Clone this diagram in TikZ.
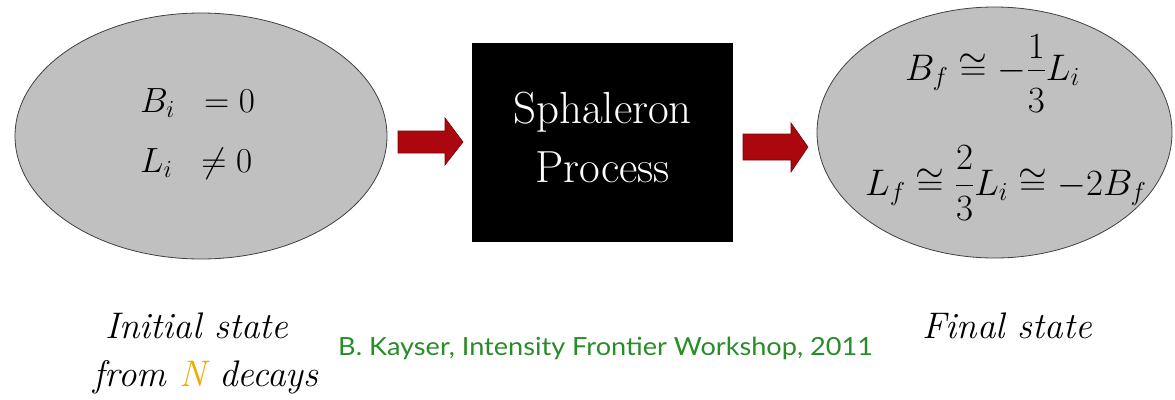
\RequirePackage{fix-cm}
\documentclass[tikz,border=0pt]{standalone}
\usepackage{amsmath}
\usepackage{fontspec}
\newfontfamily\gillfont{Lato}
\usetikzlibrary{shapes.geometric}
\definecolor{ellgray}{RGB}{192,192,192}
\definecolor{arrred}{RGB}{172,6,14}
\definecolor{refgreen}{RGB}{40,140,40}
\definecolor{norange}{RGB}{240,170,0}
\begin{document}
\begin{tikzpicture}[x=1pt,y=-1pt,
  statebox/.style={ellipse, draw=black!75, line width=0.8pt, fill=ellgray, inner sep=0pt},
  eqnl/.style={anchor=base west, inner sep=0pt, font=\fontsize{35}{40}\selectfont},
  eqnr/.style={anchor=base west, inner sep=0pt, font=\fontsize{37}{42}\selectfont},
  procbox/.style={rectangle, fill=black, draw=none, inner sep=0pt, minimum width=261pt, minimum height=199pt},
  proctxt/.style={anchor=base, inner sep=0pt, text=white, font=\fontsize{45}{52}\selectfont},
  captxt/.style={anchor=base, inner sep=0pt, font=\fontsize{37}{44}\selectfont\itshape},
  credit/.style={anchor=base west, inner sep=0pt, text=refgreen, font=\gillfont\fontsize{25}{30}\selectfont},
  blockarrow/.style={fill=arrred, draw=arrred!70!black, line width=0.6pt, line join=miter}]
\useasboundingbox (0,0) rectangle (1175,399);

% initial state
\node[statebox, minimum width=372pt, minimum height=246pt] (init) at (201,136) {};
\node[eqnl] (bi) at (140,112) {$B_i \;\;= 0$};
\node[eqnl] (li) at (140,172) {$L_i \;\;\neq 0$};

% process
\node[procbox] (proc) at (602.5,142.5) {};
\node[proctxt] (sph) at (602.5,123) {Sphaleron};
\node[proctxt] (prc) at (602.5,182) {Process};

% final state
\node[statebox, minimum width=355pt, minimum height=251pt] (final) at (994.5,132.5) {};
\node[eqnr] (bf) at (905,80) {$\displaystyle B_f \cong -\frac{\raisebox{-4pt}{$1$}}{\raisebox{-7pt}{$3$}}L_i$};
\node[eqnr] (lf) at (865,195) {$\displaystyle L_f \cong \frac{2}{3}L_i \cong -2B_f$};

% block arrows
\draw[blockarrow] (398,131) -- (445,131) -- (445,118) -- (463,142) -- (445,165) -- (445,153) -- (398,153) -- cycle;
\draw[blockarrow] (743,134) -- (791,134) -- (791,123) -- (808,147) -- (791,172) -- (791,160) -- (743,160) -- cycle;

% captions
\node[captxt] (cap1) at (197,338) {Initial state};
\node[captxt] (cap2) at (206,386) {from {\color{norange}N} decays};
\node[captxt] (cap3) at (1007,338) {Final state};
\node[credit] (ref) at (338,355) {\scalebox{1.085}[1]{B. Kayser, Intensity Frontier Workshop, 2011}};
\end{tikzpicture}
\end{document}
